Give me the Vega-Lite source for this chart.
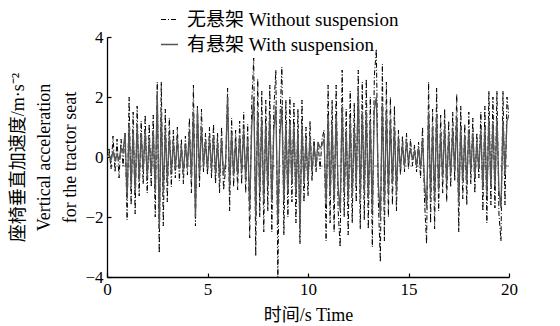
{
"$schema": "https://vega.github.io/schema/vega-lite/v6.json",
"width": 402, "height": 240,
"autosize": "none",
"padding": {"left": 107, "top": 37, "right": 51, "bottom": 49},
"config": {"view": {"stroke": null}, "font": "Liberation Serif, Noto Sans CJK SC"},
"layer": [
{
"data": {"values": [{"y": -0.3}]},
"mark": {"type": "rule", "color": "#444", "strokeWidth": 0.7, "strokeDash": [3, 3]},
"encoding": {"y": {"field": "y", "type": "quantitative", "scale": {"domain": [-4, 4]}}}
},
{
"data": {"values": [
{"t":0.0,"a":0.0,"b":0.0},{"t":0.1,"a":0.3,"b":0.1},{"t":0.2,"a":-0.4,"b":-0.1},{"t":0.3,"a":0.7,"b":0.2},{"t":0.4,"a":-0.5,"b":-0.1},{"t":0.5,"a":0.6,"b":0.1},{"t":0.6,"a":-0.7,"b":-0.1},{"t":0.7,"a":0.6,"b":0.3},{"t":0.8,"a":-0.3,"b":0.2},{"t":0.9,"a":0.8,"b":0.8},
{"t":1.0,"a":-2.1,"b":-1.4},{"t":1.1,"a":2.0,"b":1.1},{"t":1.2,"a":-1.6,"b":-1.0},{"t":1.3,"a":1.5,"b":0.9},{"t":1.4,"a":-1.9,"b":-1.2},{"t":1.5,"a":1.7,"b":1.1},{"t":1.6,"a":-1.3,"b":-0.8},{"t":1.7,"a":1.2,"b":0.8},{"t":1.8,"a":-0.9,"b":-0.5},{"t":1.9,"a":1.4,"b":0.9},
{"t":2.0,"a":-1.2,"b":-0.7},{"t":2.1,"a":1.1,"b":0.6},{"t":2.2,"a":-1.0,"b":-0.6},{"t":2.3,"a":1.4,"b":0.9},{"t":2.4,"a":-2.0,"b":-1.2},{"t":2.5,"a":2.5,"b":2.2},{"t":2.6,"a":-3.2,"b":-2.4},{"t":2.7,"a":2.5,"b":1.5},{"t":2.8,"a":-2.3,"b":-1.2},{"t":2.9,"a":1.6,"b":0.9},
{"t":3.0,"a":-1.5,"b":-0.8},{"t":3.1,"a":1.3,"b":0.7},{"t":3.2,"a":-1.0,"b":-0.5},{"t":3.3,"a":0.9,"b":0.5},{"t":3.4,"a":-0.7,"b":-0.4},{"t":3.5,"a":1.0,"b":0.6},{"t":3.6,"a":-0.8,"b":-0.4},{"t":3.7,"a":0.6,"b":0.3},{"t":3.8,"a":-0.9,"b":-0.5},{"t":3.9,"a":0.7,"b":0.4},
{"t":4.0,"a":-0.6,"b":-0.3},{"t":4.1,"a":1.3,"b":0.8},{"t":4.2,"a":-1.2,"b":-0.7},{"t":4.3,"a":2.4,"b":1.5},{"t":4.4,"a":-2.3,"b":-2.0},{"t":4.5,"a":1.7,"b":1.6},{"t":4.6,"a":-1.0,"b":-0.6},{"t":4.7,"a":1.6,"b":1.0},{"t":4.8,"a":-0.5,"b":-0.3},{"t":4.9,"a":0.8,"b":0.5},
{"t":5.0,"a":-0.6,"b":-0.4},{"t":5.1,"a":1.0,"b":0.6},{"t":5.2,"a":-0.7,"b":-0.4},{"t":5.3,"a":1.1,"b":0.7},{"t":5.4,"a":-0.9,"b":-0.6},{"t":5.5,"a":0.8,"b":0.5},{"t":5.6,"a":-1.2,"b":-0.7},{"t":5.7,"a":1.0,"b":0.6},{"t":5.8,"a":-1.1,"b":-0.6},{"t":5.9,"a":-0.4,"b":-0.2},
{"t":6.0,"a":2.3,"b":2.0},{"t":6.1,"a":-1.8,"b":-1.0},{"t":6.2,"a":1.3,"b":0.8},{"t":6.3,"a":-1.0,"b":-0.6},{"t":6.4,"a":0.9,"b":0.5},{"t":6.5,"a":-1.1,"b":-0.6},{"t":6.6,"a":1.2,"b":0.7},{"t":6.7,"a":-0.9,"b":-0.5},{"t":6.8,"a":1.5,"b":0.9},{"t":6.9,"a":-1.2,"b":-0.7},
{"t":7.0,"a":1.1,"b":0.6},{"t":7.1,"a":-2.7,"b":-1.7},{"t":7.2,"a":1.8,"b":1.0},{"t":7.3,"a":3.3,"b":2.0},{"t":7.4,"a":-3.3,"b":-2.0},{"t":7.5,"a":2.6,"b":1.5},{"t":7.6,"a":-2.0,"b":-1.2},{"t":7.7,"a":2.2,"b":1.3},{"t":7.8,"a":-2.5,"b":-1.5},{"t":7.9,"a":1.9,"b":1.1},
{"t":8.0,"a":-1.8,"b":-1.0},{"t":8.1,"a":2.4,"b":1.4},{"t":8.2,"a":-2.5,"b":-1.5},{"t":8.3,"a":1.6,"b":0.9},{"t":8.4,"a":2.9,"b":1.7},{"t":8.5,"a":-4.0,"b":-2.2},{"t":8.6,"a":1.2,"b":0.7},{"t":8.7,"a":3.0,"b":1.7},{"t":8.8,"a":-2.6,"b":-1.5},{"t":8.9,"a":1.9,"b":1.1},
{"t":9.0,"a":-2.0,"b":-1.2},{"t":9.1,"a":2.0,"b":1.2},{"t":9.2,"a":-1.5,"b":-0.9},{"t":9.3,"a":1.8,"b":1.1},{"t":9.4,"a":-2.2,"b":-1.3},{"t":9.5,"a":1.6,"b":0.9},{"t":9.6,"a":-2.9,"b":-2.4},{"t":9.7,"a":1.9,"b":1.1},{"t":9.8,"a":-1.5,"b":-0.9},{"t":9.9,"a":1.0,"b":0.6},
{"t":10.0,"a":-1.3,"b":-0.8},{"t":10.1,"a":1.2,"b":0.7},{"t":10.2,"a":-0.8,"b":-0.5},{"t":10.3,"a":0.6,"b":0.4},{"t":10.4,"a":-0.5,"b":-0.3},{"t":10.5,"a":0.5,"b":0.5},{"t":10.6,"a":-0.4,"b":0.3},{"t":10.7,"a":0.6,"b":0.4},{"t":10.8,"a":0.9,"b":0.6},{"t":10.9,"a":-2.8,"b":-1.6},
{"t":11.0,"a":2.4,"b":1.4},{"t":11.1,"a":-2.2,"b":-1.3},{"t":11.2,"a":1.9,"b":1.1},{"t":11.3,"a":-2.5,"b":-1.5},{"t":11.4,"a":2.4,"b":1.4},{"t":11.5,"a":-1.8,"b":-1.0},{"t":11.6,"a":-3.0,"b":-1.8},{"t":11.7,"a":2.9,"b":1.7},{"t":11.8,"a":-2.0,"b":-1.2},{"t":11.9,"a":1.6,"b":0.9},
{"t":12.0,"a":-2.6,"b":-1.5},{"t":12.1,"a":2.2,"b":1.3},{"t":12.2,"a":-2.2,"b":-1.3},{"t":12.3,"a":1.8,"b":1.0},{"t":12.4,"a":-1.5,"b":-0.9},{"t":12.5,"a":2.9,"b":2.3},{"t":12.6,"a":-2.4,"b":-1.4},{"t":12.7,"a":2.5,"b":1.5},{"t":12.8,"a":-2.1,"b":-1.2},{"t":12.9,"a":2.6,"b":1.5},
{"t":13.0,"a":-2.4,"b":-1.4},{"t":13.1,"a":2.0,"b":1.2},{"t":13.2,"a":-3.0,"b":-1.8},{"t":13.3,"a":2.7,"b":1.6},{"t":13.4,"a":3.6,"b":2.0},{"t":13.5,"a":-1.5,"b":-0.9},{"t":13.6,"a":-3.5,"b":-2.0},{"t":13.7,"a":3.1,"b":1.8},{"t":13.8,"a":-2.8,"b":-1.6},{"t":13.9,"a":2.5,"b":1.5},
{"t":14.0,"a":-2.0,"b":-1.2},{"t":14.1,"a":2.0,"b":1.2},{"t":14.2,"a":-1.6,"b":-0.9},{"t":14.3,"a":1.7,"b":1.0},{"t":14.4,"a":-1.8,"b":-1.1},{"t":14.5,"a":0.9,"b":0.6},{"t":14.6,"a":-0.6,"b":-0.4},{"t":14.7,"a":0.7,"b":0.4},{"t":14.8,"a":-0.5,"b":-0.3},{"t":14.9,"a":0.8,"b":0.5},
{"t":15.0,"a":-0.4,"b":-0.2},{"t":15.1,"a":0.6,"b":0.3},{"t":15.2,"a":-0.3,"b":-0.1},{"t":15.3,"a":0.4,"b":0.2},{"t":15.4,"a":-0.5,"b":-0.3},{"t":15.5,"a":0.5,"b":0.3},{"t":15.6,"a":-0.7,"b":-0.4},{"t":15.7,"a":1.0,"b":0.6},{"t":15.8,"a":-1.5,"b":-0.9},{"t":15.9,"a":-2.9,"b":-1.7},
{"t":16.0,"a":2.5,"b":1.5},{"t":16.1,"a":-2.2,"b":-1.3},{"t":16.2,"a":1.6,"b":1.0},{"t":16.3,"a":-2.4,"b":-1.4},{"t":16.4,"a":2.3,"b":1.4},{"t":16.5,"a":-1.8,"b":-1.1},{"t":16.6,"a":1.4,"b":0.8},{"t":16.7,"a":-1.2,"b":-0.7},{"t":16.8,"a":1.6,"b":1.0},{"t":16.9,"a":-1.5,"b":-0.9},
{"t":17.0,"a":1.2,"b":0.7},{"t":17.1,"a":-1.0,"b":-0.6},{"t":17.2,"a":1.5,"b":0.9},{"t":17.3,"a":-0.8,"b":-0.5},{"t":17.4,"a":2.1,"b":1.3},{"t":17.5,"a":-2.5,"b":-1.5},{"t":17.6,"a":1.7,"b":1.0},{"t":17.7,"a":-1.4,"b":-0.8},{"t":17.8,"a":1.1,"b":0.7},{"t":17.9,"a":-1.6,"b":-0.9},
{"t":18.0,"a":1.5,"b":0.9},{"t":18.1,"a":-0.9,"b":-0.5},{"t":18.2,"a":1.3,"b":0.8},{"t":18.3,"a":-1.2,"b":-0.7},{"t":18.4,"a":0.8,"b":0.5},{"t":18.5,"a":-0.7,"b":-0.4},{"t":18.6,"a":1.5,"b":0.9},{"t":18.7,"a":-1.8,"b":-1.1},{"t":18.8,"a":1.7,"b":1.0},{"t":18.9,"a":-2.2,"b":-1.3},
{"t":19.0,"a":2.2,"b":1.3},{"t":19.1,"a":-1.6,"b":-1.0},{"t":19.2,"a":2.0,"b":1.2},{"t":19.3,"a":-1.7,"b":-1.0},{"t":19.4,"a":2.2,"b":1.3},{"t":19.5,"a":-1.9,"b":-1.1},{"t":19.6,"a":-2.8,"b":-1.7},{"t":19.7,"a":2.2,"b":1.2},{"t":19.8,"a":-1.6,"b":-0.6},{"t":19.9,"a":2.0,"b":1.2},
{"t":20.0,"a":1.3,"b":1.4}
]},
"transform": [{"fold": ["a", "b"], "as": ["s", "v"]}],
"mark": {"type": "line", "clip": true},
"encoding": {
"x": {"field": "t", "type": "quantitative", "scale": {"domain": [0, 20], "nice": false},
"axis": {"values": [0, 5, 10, 15, 20], "grid": false, "tickSize": -4, "tickColor": "#000", "domainColor": "#000", "domainWidth": 1.3, "tickWidth": 1.2,
"labelFont": "Liberation Serif", "labelFontSize": 17, "labelColor": "#000", "labelPadding": 8, "labelFlush": false, "labelOverlap": false,
"title": "时间/s Time", "titleFont": "Liberation Serif, Noto Sans CJK SC", "titleFontSize": 18, "titleFontWeight": "normal", "titleColor": "#000",
"titleY": 38, "titleBaseline": "middle"}},
"y": {"field": "v", "type": "quantitative", "scale": {"domain": [-4, 4], "nice": false},
"axis": {"values": [-4, -2, 0, 2, 4], "grid": false, "tickSize": -4, "tickColor": "#000", "domainColor": "#000", "domainWidth": 1.3, "tickWidth": 1.2,
"labelFont": "Liberation Serif", "labelFontSize": 17, "labelColor": "#000", "labelPadding": 8, "labelOverlap": false, "labelFlush": false,
"title": ["座椅垂直加速度/m·s⁻²", "Vertical acceleration", "for the tractor seat"],
"titleFont": "Liberation Serif, Noto Sans CJK SC", "titleFontSize": 18, "titleFontWeight": "normal", "titleColor": "#000",
"titleLineHeight": 26, "titleX": -89, "titleY": 120, "titleAngle": -90, "titleAlign": "center", "titleBaseline": "middle"}},
"color": {"field": "s", "type": "nominal", "scale": {"domain": ["a", "b"], "range": ["#000000", "#555555"]},
"legend": {"orient": "none", "legendX": 53, "legendY": -27, "title": null, "padding": 0,
"symbolType": "stroke", "symbolSize": 289, "symbolStrokeWidth": 1, "labelOffset": 8, "rowPadding": 5,
"labelFont": "Liberation Serif, Noto Sans CJK SC", "labelFontSize": 19, "labelColor": "#000", "labelLimit": 400,
"labelExpr": "datum.label == 'a' ? '无悬架 Without suspension' : '有悬架 With suspension'"}},
"strokeDash": {"field": "s", "type": "nominal", "scale": {"domain": ["a", "b"], "range": [[5, 2, 1, 2], [1, 0]]}},
"strokeWidth": {"field": "s", "type": "nominal", "scale": {"domain": ["a", "b"], "range": [1, 1.3]}, "legend": null}
}
}
]
}
